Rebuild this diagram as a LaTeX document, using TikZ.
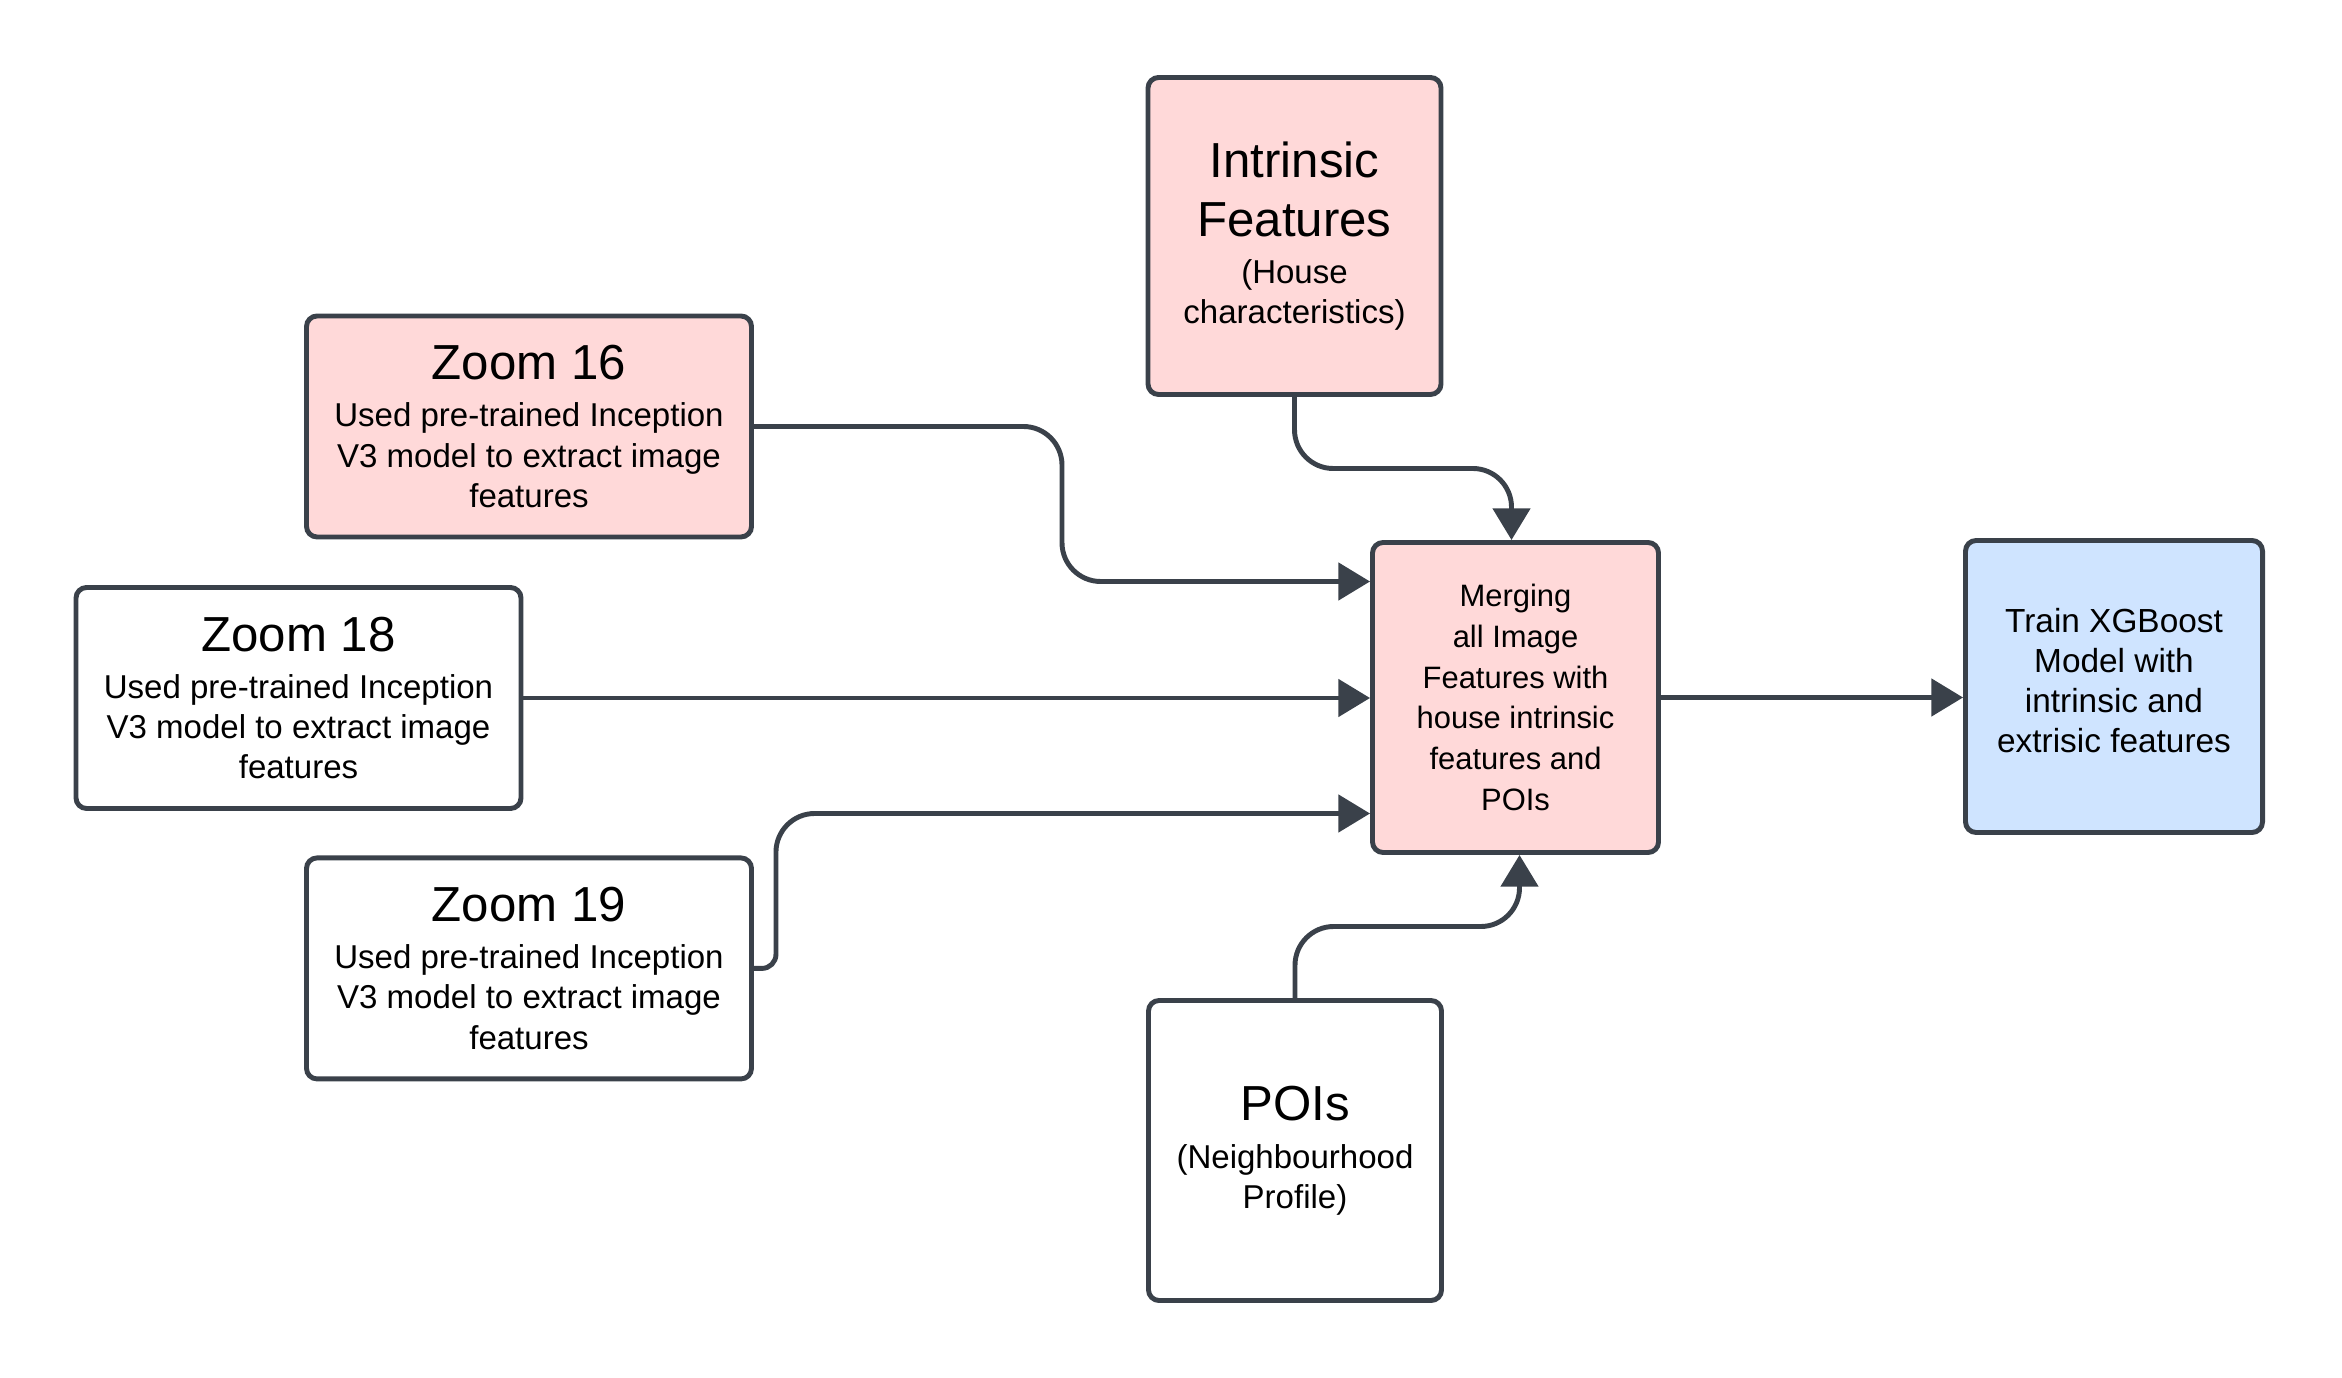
\documentclass[tikz,border=0pt]{standalone}
\usepackage{fontspec}
\setmainfont{Liberation Sans}
\usetikzlibrary{positioning, calc, arrows.meta}

\definecolor{edge}{HTML}{3A414A}
\definecolor{pinkfill}{HTML}{FFD9D9}
\definecolor{bluefill}{HTML}{CFE4FF}

\newcommand{\bigtitle}{\fontsize{14}{16.8}\selectfont}

\begin{document}
\begin{tikzpicture}
    \tikzstyle{box} = [draw=edge, line width=1.4pt, rounded corners=3pt, align=center, inner sep=0pt, font=\fontsize{9.4}{11.4}\selectfont];
    \tikzstyle{zoombox} = [box, minimum width=4.45cm, minimum height=2.21cm];
    \tikzstyle{sqbox} = [box, minimum width=2.93cm];
    \tikzstyle{link} = [draw=edge, line width=1.4pt, -{Triangle[length=9pt, width=10.5pt]}];

    \useasboundingbox (0,0) rectangle (23.42,-13.78);

    \node[zoombox, fill=pinkfill] (z16) at (5.29, -4.265) {{\bigtitle Zoom 16}\\[2pt] Used pre-trained Inception\\ V3 model to extract image\\ features};
    \node[zoombox] (z18) at (2.985, -6.98) {{\bigtitle Zoom 18}\\[2pt] Used pre-trained Inception\\ V3 model to extract image\\ features};
    \node[zoombox, below = 3.16 of z16] (z19) {{\bigtitle Zoom 19}\\[2pt] Used pre-trained Inception\\ V3 model to extract image\\ features};

    \node[sqbox, fill=pinkfill, minimum height=3.17cm] (intr) at (12.945, -2.36) {{\bigtitle Intrinsic}\\[5.4pt]{\bigtitle Features}\\[2pt] (House\\ characteristics)};
    \node[sqbox, fill=pinkfill, minimum width=2.86cm, minimum height=3.1cm, font=\fontsize{8.8}{11.6}\selectfont] (merge) at (15.155, -6.975) {Merging\\ all Image\\ Features with\\ house intrinsic\\ features and\\ POIs};
    \node[sqbox, minimum height=3.0cm] (poi) at (12.95, -11.505) {{\bigtitle POIs}\\[2.3pt] (Neighbourhood\\ Profile)};
    \node[sqbox, fill=bluefill, minimum width=2.97cm, minimum height=2.92cm, text depth=3.6pt, font=\fontsize{9.5}{11.4}\selectfont] (train) at (21.14, -6.865) {Train XGBoost\\ Model with\\ intrinsic and\\ extrisic features};

    \coordinate (in16) at ([yshift=1.16cm]merge.west);
    \coordinate (in19) at ([yshift=-1.16cm]merge.west);
    \coordinate (topin) at ([xshift=-0.04cm]merge.north);
    \coordinate (botin) at ([xshift=0.04cm]merge.south);

    \draw[link, rounded corners=11pt] (z16.east) -| ($(z16.east)!0.5!(in16)$) |- (in16);
    \draw[link] (z18.east) -- (z18.east -| merge.west);
    \draw[link] (z19.east) [rounded corners=4pt] -- ++(0.22,0) coordinate (b19) [rounded corners=11pt] -- (b19 |- in19) -- (in19);

    \draw[link, rounded corners=11pt] (intr.south) |- ($(intr.south)!0.5!(topin)$) -| (topin);
    \draw[link, rounded corners=11pt] (poi.north) |- ($(poi.north)!0.5!(botin)$) -| (botin);

    \draw[link] (merge.east) -- (merge.east -| train.west);
\end{tikzpicture}
\end{document}
